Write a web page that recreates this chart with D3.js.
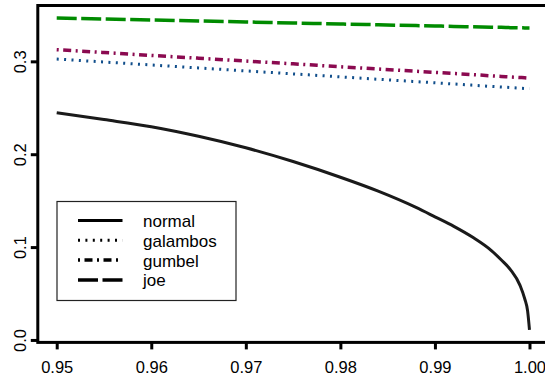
<!DOCTYPE html>
<html lang="en">
<head>
	<meta http-equiv="Content-type" content="text/html" charset="UTF-8">
	<script src="https://d3js.org/d3.v7.min.js"></script>
	<style>
		html, body { margin: 0; padding: 0; background: #fff; }
		svg { display: block; }
		text { font-family: 'Liberation Sans', Arial, Helvetica, sans-serif; font-size: 16.5px; fill: #000; }
		.legend text { font-size: 17px; }
	</style>
</head>
<body>
	<div id="chart"></div>

	<script type="text/javascript">

		/////////////////////////////////
		//  Data  //
		/////////////////////////////////

		var levels = [0.95, 0.955, 0.96, 0.965, 0.97, 0.975, 0.98, 0.984, 0.988, 0.99,
			0.992, 0.994, 0.996, 0.997, 0.998, 0.999, 0.9995, 0.9998, 1.0];

		var normal = [0.2446, 0.2373, 0.2296, 0.2193, 0.2069, 0.1921, 0.1752, 0.1602, 0.1427, 0.1326,
			0.1223, 0.1105, 0.0960, 0.0863, 0.0755, 0.0588, 0.0443, 0.0313, 0.0108];

		var galambos = [0.3025, 0.2993, 0.2961, 0.2929, 0.2897, 0.2865, 0.2833, 0.2807, 0.2782, 0.2769,
			0.2756, 0.2743, 0.2730, 0.2724, 0.2718, 0.2711, 0.2708, 0.2706, 0.2705];

		var gumbel = [0.3125, 0.3095, 0.3064, 0.3034, 0.3003, 0.2973, 0.2942, 0.2918, 0.2893, 0.2881,
			0.2869, 0.2857, 0.2844, 0.2838, 0.2832, 0.2826, 0.2823, 0.2821, 0.2820];

		var joe = [0.3467, 0.3456, 0.3445, 0.3435, 0.3424, 0.3413, 0.3402, 0.3394, 0.3385, 0.3381,
			0.3376, 0.3372, 0.3368, 0.3366, 0.3363, 0.3361, 0.3360, 0.3359, 0.3359];

		var seriesNames = ['normal', 'galambos', 'gumbel', 'joe'];
		var xTicks = [0.95, 0.96, 0.97, 0.98, 0.99, 1.00];
		var yTicks = [0.0, 0.1, 0.2, 0.3];

		// styles per series (R lty 1, 3, 4, 5)
		var seriesColors = ['#1a1a1a', '#104E8B', '#8B0A50', '#008B00'];
		var seriesDash = ['none', '2,5.4', '2,4.5,8,4.5', '20,4.5'];
		var seriesWidth = [3, 3, 3.5, 3.5];

		var series = [normal, galambos, gumbel, joe].map(function(vals, i) {
			return {
				name: seriesNames[i],
				points: levels.map(function(l, j) { return {x: l, y: vals[j]}; })
			};
		});

		/////////////////////////////////
		//  Canvas and scales          //
		/////////////////////////////////

		var width = 545, height = 381;
		var plot = {left: 37.8, right: 548.4, top: 5.5, bottom: 342.4};

		// R style 4% padding of the data range
		function padded(ext) {
			var d = (ext[1] - ext[0]) * 0.04;
			return [ext[0] - d, ext[1] + d];
		}

		var allValues = [].concat(normal, galambos, gumbel, joe);

		var x = d3.scaleLinear()
			.domain(padded(d3.extent(levels)))
			.range([plot.left, plot.right]);

		var y = d3.scaleLinear()
			.domain(padded(d3.extent(allValues)))
			.range([plot.bottom, plot.top]);

		var svg = d3.select('#chart')
			.append('svg')
			.attr('width', width)
			.attr('height', height);

		/////////////////////////////////
		//  Lines                      //
		/////////////////////////////////

		var line = d3.line()
			.x(function(d) { return x(d.x); })
			.y(function(d) { return y(d.y); })
			.curve(d3.curveMonotoneX);

		svg.selectAll('.series')
			.data(series)
			.enter().append('path')
			.attr('class', 'series')
			.attr('d', function(d) { return line(d.points); })
			.style('fill', 'none')
			.style('stroke', function(d, i) { return seriesColors[i]; })
			.style('stroke-width', function(d, i) { return seriesWidth[i]; })
			.style('stroke-dasharray', function(d, i) { return seriesDash[i]; })
			.style('stroke-linejoin', 'round');

		/////////////////////////////////
		//  Axes and box               //
		/////////////////////////////////

		var xAxis = svg.append('g')
			.attr('class', 'axis')
			.attr('transform', 'translate(0,' + plot.bottom + ')')
			.call(d3.axisBottom(x)
				.tickValues(xTicks)
				.tickFormat(d3.format('.2f'))
				.tickSize(7)
				.tickPadding(12));

		var yAxis = svg.append('g')
			.attr('class', 'axis')
			.attr('transform', 'translate(' + plot.left + ',0)')
			.call(d3.axisLeft(y)
				.tickValues(yTicks)
				.tickFormat(d3.format('.1f'))
				.tickSize(7));

		svg.selectAll('.axis .domain').remove();
		svg.selectAll('.axis line')
			.style('stroke', '#000')
			.style('stroke-width', 3);
		svg.selectAll('.axis text')
			.style('font-family', "'Liberation Sans', Arial, sans-serif")
			.style('font-size', '16.5px')
			.attr('fill', '#000');

		yAxis.selectAll('text')
			.attr('x', 0)
			.attr('dy', null)
			.attr('text-anchor', 'middle')
			.attr('transform', 'translate(-12,0) rotate(-90)');

		svg.append('rect')
			.attr('x', plot.left)
			.attr('y', plot.top)
			.attr('width', plot.right - plot.left)
			.attr('height', plot.bottom - plot.top)
			.style('fill', 'none')
			.style('stroke', '#000')
			.style('stroke-width', 3);

		/////////////////////////////////
		//  Legend                     //
		/////////////////////////////////

		var legendBox = {x: 57, y: 201.5, w: 179, h: 99};
		var legendRow = 19.8, legendFirst = 19;

		var legend = svg.append('g')
			.attr('class', 'legend')
			.attr('transform', 'translate(' + legendBox.x + ',' + legendBox.y + ')');

		legend.append('rect')
			.attr('width', legendBox.w)
			.attr('height', legendBox.h)
			.style('fill', '#fff')
			.style('stroke', '#222')
			.style('stroke-width', 1.2);

		var rows = legend.selectAll('.row')
			.data(seriesNames)
			.enter().append('g')
			.attr('class', 'row')
			.attr('transform', function(d, i) {
				return 'translate(0,' + (legendFirst + i * legendRow) + ')';
			});

		rows.append('line')
			.attr('x1', 21)
			.attr('x2', 65.5)
			.style('stroke', '#000')
			.style('stroke-width', function(d, i) { return seriesWidth[i]; })
			.style('stroke-dasharray', function(d, i) { return seriesDash[i]; });

		rows.append('text')
			.attr('x', 86)
			.attr('y', 6.5)
			.text(function(d) { return d; });

	</script>
</body>
</html>
